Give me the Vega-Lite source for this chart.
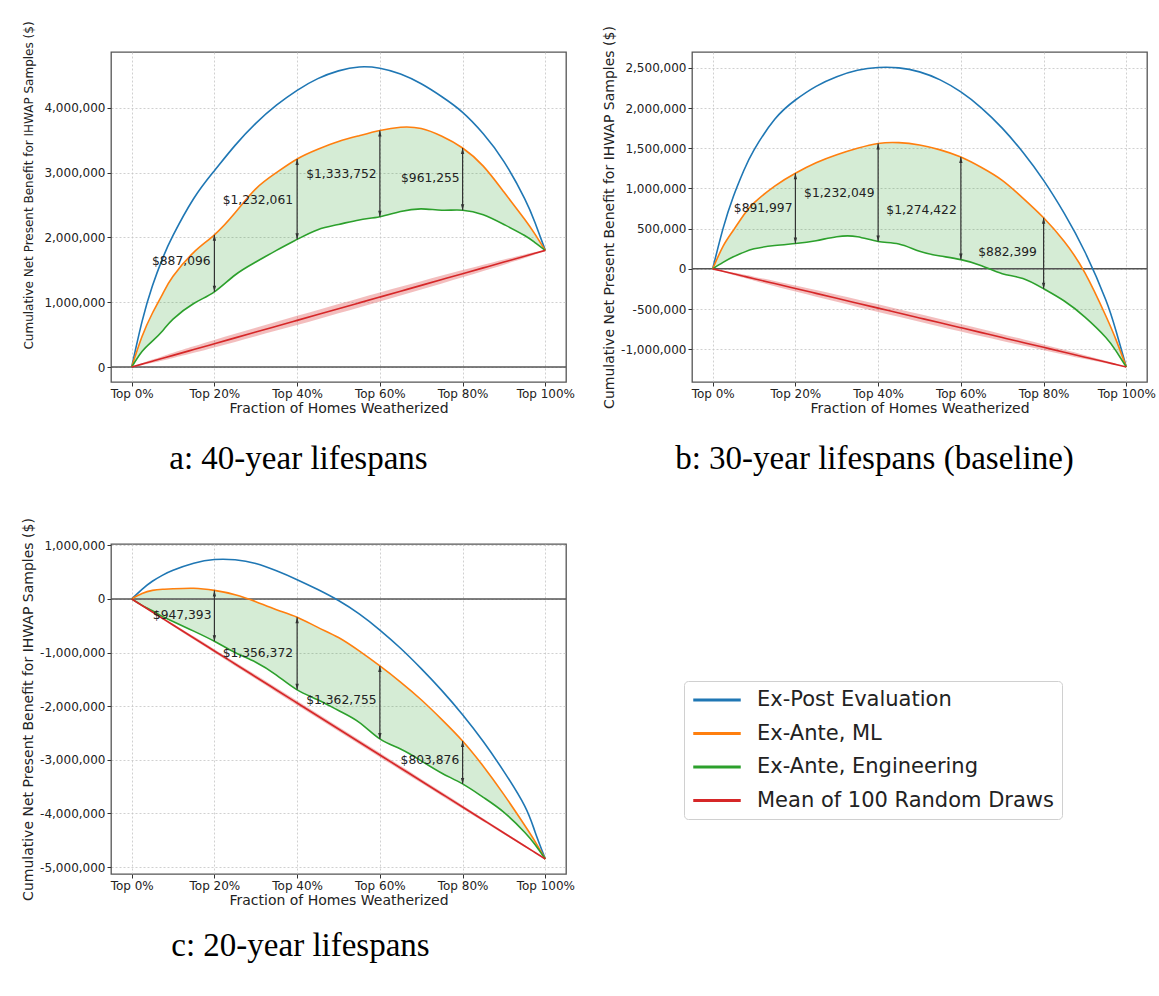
{
"$schema": "https://vega.github.io/schema/vega-lite/v6.json",
"padding": {"left": 20, "top": 20, "right": 0, "bottom": 0},
"background": "white",
"config": {
  "font": "DejaVu Sans",
  "view": {"stroke": "#555", "strokeWidth": 1.3},
  "axis": {"labelFont": "DejaVu Sans", "labelFontSize": 12, "labelColor": "#222", "titleFont": "DejaVu Sans", "titleFontSize": 14, "titleFontWeight": "normal", "titleColor": "#222", "grid": true, "gridColor": "#c4c4c4", "gridDash": [2, 2], "gridWidth": 0.8, "domain": false, "tickColor": "#333", "tickSize": 4, "labelPadding": 2, "labelFlush": false, "labelOverlap": false},
  "axisX": {"titlePadding": 2},
  "title": {"font": "Liberation Serif", "fontSize": 33, "fontWeight": "normal", "color": "#000", "offset": 28},
  "legend": {"orient": "none", "legendX": 573, "legendY": 629, "symbolType": "M-2.5,0H2.5", "symbolSize": 361, "symbolStrokeWidth": 3, "symbolOffset": 14, "labelFontSize": 21, "labelFont": "DejaVu Sans", "labelColor": "#222", "labelLimit": 500, "rowPadding": 12.5, "labelOffset": 29, "padding": 8, "strokeColor": "#d0d0d0", "cornerRadius": 4, "fillColor": "white"}
},
"datasets": {
"curves": [
{"p":"a","x":0,"post":0,"ml":0,"eng":0,"rnd":0,"lo":0,"hi":0},
{"p":"a","x":2.5,"post":700000,"ml":470000,"eng":240000,"rnd":45000,"lo":30000,"hi":60000},
{"p":"a","x":5,"post":1250000,"ml":830000,"eng":400000,"rnd":90000,"lo":65000,"hi":115000},
{"p":"a","x":7.5,"post":1680000,"ml":1130000,"eng":560000,"rnd":135000,"lo":102000,"hi":168000},
{"p":"a","x":10,"post":2030000,"ml":1400000,"eng":740000,"rnd":180000,"lo":140000,"hi":220000},
{"p":"a","x":15,"post":2600000,"ml":1770000,"eng":980000,"rnd":270000,"lo":220000,"hi":320000},
{"p":"a","x":20,"post":3030000,"ml":2040000,"eng":1160000,"rnd":360000,"lo":303000,"hi":417000},
{"p":"a","x":25,"post":3420000,"ml":2380000,"eng":1420000,"rnd":450000,"lo":388000,"hi":512000},
{"p":"a","x":30,"post":3760000,"ml":2750000,"eng":1620000,"rnd":540000,"lo":474000,"hi":606000},
{"p":"a","x":35,"post":4040000,"ml":3000000,"eng":1800000,"rnd":630000,"lo":562000,"hi":698000},
{"p":"a","x":40,"post":4270000,"ml":3210000,"eng":1970000,"rnd":720000,"lo":650000,"hi":790000},
{"p":"a","x":45,"post":4450000,"ml":3360000,"eng":2120000,"rnd":810000,"lo":739000,"hi":881000},
{"p":"a","x":50,"post":4570000,"ml":3480000,"eng":2200000,"rnd":900000,"lo":829000,"hi":971000},
{"p":"a","x":55,"post":4630000,"ml":3570000,"eng":2270000,"rnd":990000,"lo":919000,"hi":1061000},
{"p":"a","x":60,"post":4610000,"ml":3650000,"eng":2320000,"rnd":1080000,"lo":1010000,"hi":1150000},
{"p":"a","x":65,"post":4520000,"ml":3700000,"eng":2400000,"rnd":1170000,"lo":1102000,"hi":1238000},
{"p":"a","x":70,"post":4370000,"ml":3680000,"eng":2440000,"rnd":1260000,"lo":1195000,"hi":1325000},
{"p":"a","x":75,"post":4170000,"ml":3560000,"eng":2420000,"rnd":1350000,"lo":1289000,"hi":1411000},
{"p":"a","x":80,"post":3930000,"ml":3380000,"eng":2420000,"rnd":1440000,"lo":1384000,"hi":1496000},
{"p":"a","x":85,"post":3600000,"ml":3100000,"eng":2350000,"rnd":1530000,"lo":1481000,"hi":1579000},
{"p":"a","x":90,"post":3170000,"ml":2700000,"eng":2200000,"rnd":1620000,"lo":1580000,"hi":1660000},
{"p":"a","x":95,"post":2600000,"ml":2280000,"eng":2030000,"rnd":1710000,"lo":1682000,"hi":1738000},
{"p":"a","x":97.5,"post":2230000,"ml":2050000,"eng":1920000,"rnd":1755000,"lo":1736000,"hi":1774000},
{"p":"a","x":100,"post":1800000,"ml":1800000,"eng":1800000,"rnd":1800000,"lo":1800000,"hi":1800000},
{"p":"b","x":0,"post":0,"ml":0,"eng":0,"rnd":0,"lo":0,"hi":0},
{"p":"b","x":2.5,"post":500000,"ml":280000,"eng":80000,"rnd":-30500,"lo":-38500,"hi":-22500},
{"p":"b","x":5,"post":900000,"ml":480000,"eng":150000,"rnd":-61000,"lo":-76000,"hi":-46000},
{"p":"b","x":7.5,"post":1220000,"ml":670000,"eng":205000,"rnd":-91500,"lo":-111500,"hi":-71500},
{"p":"b","x":10,"post":1480000,"ml":820000,"eng":250000,"rnd":-122000,"lo":-147000,"hi":-97000},
{"p":"b","x":15,"post":1860000,"ml":1030000,"eng":290000,"rnd":-183000,"lo":-215000,"hi":-151000},
{"p":"b","x":20,"post":2100000,"ml":1190000,"eng":315000,"rnd":-244000,"lo":-281000,"hi":-207000},
{"p":"b","x":25,"post":2270000,"ml":1320000,"eng":350000,"rnd":-305000,"lo":-346000,"hi":-264000},
{"p":"b","x":30,"post":2390000,"ml":1420000,"eng":400000,"rnd":-366000,"lo":-410000,"hi":-322000},
{"p":"b","x":35,"post":2470000,"ml":1500000,"eng":400000,"rnd":-427000,"lo":-473000,"hi":-381000},
{"p":"b","x":40,"post":2505000,"ml":1560000,"eng":340000,"rnd":-488000,"lo":-535000,"hi":-441000},
{"p":"b","x":45,"post":2500000,"ml":1570000,"eng":310000,"rnd":-549000,"lo":-597000,"hi":-501000},
{"p":"b","x":50,"post":2450000,"ml":1540000,"eng":220000,"rnd":-610000,"lo":-658000,"hi":-562000},
{"p":"b","x":55,"post":2350000,"ml":1480000,"eng":160000,"rnd":-671000,"lo":-719000,"hi":-623000},
{"p":"b","x":60,"post":2200000,"ml":1390000,"eng":115000,"rnd":-732000,"lo":-779000,"hi":-685000},
{"p":"b","x":65,"post":2000000,"ml":1260000,"eng":40000,"rnd":-793000,"lo":-838000,"hi":-748000},
{"p":"b","x":70,"post":1750000,"ml":1100000,"eng":-60000,"rnd":-854000,"lo":-896000,"hi":-812000},
{"p":"b","x":75,"post":1450000,"ml":880000,"eng":-120000,"rnd":-915000,"lo":-954000,"hi":-876000},
{"p":"b","x":80,"post":1100000,"ml":635000,"eng":-247000,"rnd":-976000,"lo":-1011000,"hi":-941000},
{"p":"b","x":85,"post":690000,"ml":340000,"eng":-400000,"rnd":-1037000,"lo":-1067000,"hi":-1007000},
{"p":"b","x":90,"post":210000,"ml":-50000,"eng":-600000,"rnd":-1098000,"lo":-1122000,"hi":-1074000},
{"p":"b","x":95,"post":-380000,"ml":-580000,"eng":-850000,"rnd":-1159000,"lo":-1175000,"hi":-1143000},
{"p":"b","x":97.5,"post":-770000,"ml":-880000,"eng":-1020000,"rnd":-1189500,"lo":-1199500,"hi":-1179500},
{"p":"b","x":100,"post":-1220000,"ml":-1220000,"eng":-1220000,"rnd":-1220000,"lo":-1220000,"hi":-1220000},
{"p":"c","x":0,"post":0,"ml":0,"eng":0,"rnd":0,"lo":0,"hi":0},
{"p":"c","x":2.5,"post":180000,"ml":100000,"eng":-120000,"rnd":-121250,"lo":-130250,"hi":-112250},
{"p":"c","x":5,"post":330000,"ml":160000,"eng":-220000,"rnd":-242500,"lo":-257500,"hi":-227500},
{"p":"c","x":7.5,"post":445000,"ml":180000,"eng":-330000,"rnd":-363750,"lo":-383750,"hi":-343750},
{"p":"c","x":10,"post":535000,"ml":190000,"eng":-420000,"rnd":-485000,"lo":-509000,"hi":-461000},
{"p":"c","x":15,"post":665000,"ml":200000,"eng":-600000,"rnd":-727500,"lo":-757500,"hi":-697500},
{"p":"c","x":20,"post":735000,"ml":160000,"eng":-790000,"rnd":-970000,"lo":-1004000,"hi":-936000},
{"p":"c","x":25,"post":730000,"ml":80000,"eng":-1000000,"rnd":-1212500,"lo":-1249500,"hi":-1175500},
{"p":"c","x":30,"post":660000,"ml":-50000,"eng":-1180000,"rnd":-1455000,"lo":-1495000,"hi":-1415000},
{"p":"c","x":35,"post":525000,"ml":-200000,"eng":-1420000,"rnd":-1697500,"lo":-1738500,"hi":-1656500},
{"p":"c","x":40,"post":360000,"ml":-340000,"eng":-1695000,"rnd":-1940000,"lo":-1982000,"hi":-1898000},
{"p":"c","x":45,"post":175000,"ml":-530000,"eng":-1880000,"rnd":-2182500,"lo":-2225500,"hi":-2139500},
{"p":"c","x":50,"post":-30000,"ml":-720000,"eng":-2080000,"rnd":-2425000,"lo":-2468000,"hi":-2382000},
{"p":"c","x":55,"post":-280000,"ml":-970000,"eng":-2300000,"rnd":-2667500,"lo":-2710500,"hi":-2624500},
{"p":"c","x":60,"post":-580000,"ml":-1250000,"eng":-2610000,"rnd":-2910000,"lo":-2952000,"hi":-2868000},
{"p":"c","x":65,"post":-920000,"ml":-1550000,"eng":-2800000,"rnd":-3152500,"lo":-3193500,"hi":-3111500},
{"p":"c","x":70,"post":-1300000,"ml":-1880000,"eng":-3020000,"rnd":-3395000,"lo":-3434000,"hi":-3356000},
{"p":"c","x":75,"post":-1710000,"ml":-2250000,"eng":-3250000,"rnd":-3637500,"lo":-3674500,"hi":-3600500},
{"p":"c","x":80,"post":-2160000,"ml":-2650000,"eng":-3450000,"rnd":-3880000,"lo":-3914000,"hi":-3846000},
{"p":"c","x":85,"post":-2660000,"ml":-3120000,"eng":-3700000,"rnd":-4122500,"lo":-4151500,"hi":-4093500},
{"p":"c","x":90,"post":-3220000,"ml":-3650000,"eng":-3980000,"rnd":-4365000,"lo":-4389000,"hi":-4341000},
{"p":"c","x":95,"post":-3860000,"ml":-4220000,"eng":-4350000,"rnd":-4607500,"lo":-4624500,"hi":-4590500},
{"p":"c","x":97.5,"post":-4340000,"ml":-4520000,"eng":-4580000,"rnd":-4728750,"lo":-4739750,"hi":-4717750},
{"p":"c","x":100,"post":-4850000,"ml":-4850000,"eng":-4850000,"rnd":-4850000,"lo":-4850000,"hi":-4850000}
],
"arrows": [
{"p":"a","x":20,"top":2040000,"bottom":1160000,"label":"$887,096","lx":12.0,"ly":1630000},
{"p":"a","x":40,"top":3210000,"bottom":1970000,"label":"$1,232,061","lx":30.5,"ly":2575000},
{"p":"a","x":60,"top":3650000,"bottom":2320000,"label":"$1,333,752","lx":50.7,"ly":2980000},
{"p":"a","x":80,"top":3380000,"bottom":2420000,"label":"$961,255","lx":72.2,"ly":2920000},
{"p":"b","x":20,"top":1190000,"bottom":315000,"label":"$891,997","lx":12.2,"ly":756000},
{"p":"b","x":40,"top":1560000,"bottom":340000,"label":"$1,232,049","lx":30.6,"ly":943000},
{"p":"b","x":60,"top":1390000,"bottom":115000,"label":"$1,274,422","lx":50.5,"ly":735000},
{"p":"b","x":80,"top":635000,"bottom":-247000,"label":"$882,399","lx":71.3,"ly":208000},
{"p":"c","x":20,"top":160000,"bottom":-790000,"label":"$947,393","lx":12.2,"ly":-300000},
{"p":"c","x":40,"top":-340000,"bottom":-1695000,"label":"$1,356,372","lx":30.5,"ly":-1000000},
{"p":"c","x":60,"top":-1250000,"bottom":-2610000,"label":"$1,362,755","lx":50.7,"ly":-1890000},
{"p":"c","x":80,"top":-2650000,"bottom":-3450000,"label":"$803,876","lx":72.1,"ly":-3010000}
]
},
"concat": [
{
 "width": 455, "height": 330,
 "title": {"text": "a: 40-year lifespans", "orient": "bottom", "dx": -40},
 "layer": [
  {"data": {"name": "curves"}, "transform": [{"filter": "datum.p === 'a'"}],
   "mark": {"type": "area", "color": "#2ca02c", "opacity": 0.2, "interpolate": "natural"},
   "encoding": {
    "x": {"field": "x", "type": "quantitative", "title": "Fraction of Homes Weatherized", "scale": {"domain": [-5, 105], "nice": false, "zero": false}, "axis": {"values": [0, 20, 40, 60, 80, 100], "labelExpr": "'Top ' + datum.value + '%'"}},
    "y": {"field": "ml", "type": "quantitative", "title": "Cumulative Net Present Benefit for IHWAP Samples ($)", "scale": {"domain": [-231000, 4861000], "nice": false, "zero": false}, "axis": {"values": [0, 1000000, 2000000, 3000000, 4000000], "format": ",d", "labelExpr": "replace(datum.label, '\u2212', '-')", "titlePadding": 8, "titleFontSize": 12, "titleY": 133}},
    "y2": {"field": "eng"}}},
  {"data": {"name": "curves"}, "transform": [{"filter": "datum.p === 'a'"}],
   "mark": {"type": "area", "color": "#d62728", "opacity": 0.3, "interpolate": "natural"},
   "encoding": {"x": {"field": "x", "type": "quantitative", "title": "Fraction of Homes Weatherized"}, "y": {"field": "lo", "type": "quantitative", "title": "Cumulative Net Present Benefit for IHWAP Samples ($)"}, "y2": {"field": "hi"}}},
  {"data": {"values": [{}]}, "mark": {"type": "rule", "color": "#555", "strokeWidth": 1.5}, "encoding": {"y": {"datum": 0, "type": "quantitative", "title": "Cumulative Net Present Benefit for IHWAP Samples ($)"}}},
  {"data": {"name": "curves"}, "transform": [{"filter": "datum.p === 'a'"}, {"fold": ["post", "ml", "eng", "rnd"], "as": ["s", "v"]}],
   "mark": {"type": "line", "strokeWidth": 1.6, "interpolate": "natural"},
   "encoding": {"x": {"field": "x", "type": "quantitative", "title": "Fraction of Homes Weatherized"}, "y": {"field": "v", "type": "quantitative", "title": "Cumulative Net Present Benefit for IHWAP Samples ($)"},
    "color": {"field": "s", "type": "nominal", "scale": {"domain": ["post", "ml", "eng", "rnd"], "range": ["#1f77b4", "#ff7f0e", "#2ca02c", "#d62728"]},
     "legend": {"title": null, "labelExpr": "{'post': 'Ex-Post Evaluation', 'ml': 'Ex-Ante, ML', 'eng': 'Ex-Ante, Engineering', 'rnd': 'Mean of 100 Random Draws'}[datum.value]"}}}},
  {"data": {"name": "arrows"}, "transform": [{"filter": "datum.p === 'a'"}],
   "mark": {"type": "rule", "color": "#333", "strokeWidth": 1.2},
   "encoding": {"x": {"field": "x", "type": "quantitative", "title": "Fraction of Homes Weatherized"}, "y": {"field": "top", "type": "quantitative", "title": "Cumulative Net Present Benefit for IHWAP Samples ($)"}, "y2": {"field": "bottom"}}},
  {"data": {"name": "arrows"}, "transform": [{"filter": "datum.p === 'a'"}],
   "mark": {"type": "point", "shape": "M0,-1L-0.42,0.5L0.42,0.5Z", "filled": true, "color": "#333", "opacity": 1, "size": 64, "yOffset": 4},
   "encoding": {"x": {"field": "x", "type": "quantitative", "title": "Fraction of Homes Weatherized"}, "y": {"field": "top", "type": "quantitative", "title": "Cumulative Net Present Benefit for IHWAP Samples ($)"}}},
  {"data": {"name": "arrows"}, "transform": [{"filter": "datum.p === 'a'"}],
   "mark": {"type": "point", "shape": "M0,1L-0.42,-0.5L0.42,-0.5Z", "filled": true, "color": "#333", "opacity": 1, "size": 64, "yOffset": -4},
   "encoding": {"x": {"field": "x", "type": "quantitative", "title": "Fraction of Homes Weatherized"}, "y": {"field": "bottom", "type": "quantitative", "title": "Cumulative Net Present Benefit for IHWAP Samples ($)"}}},
  {"data": {"name": "arrows"}, "transform": [{"filter": "datum.p === 'a'"}],
   "mark": {"type": "text", "fontSize": 12.3, "font": "DejaVu Sans", "color": "#222"},
   "encoding": {"x": {"field": "lx", "type": "quantitative", "title": "Fraction of Homes Weatherized"}, "y": {"field": "ly", "type": "quantitative", "title": "Cumulative Net Present Benefit for IHWAP Samples ($)"}, "text": {"field": "label"}}}
 ]
},
{
 "width": 455, "height": 330,
 "title": {"text": "b: 30-year lifespans (baseline)", "orient": "bottom", "dx": -45},
 "layer": [
  {"data": {"name": "curves"}, "transform": [{"filter": "datum.p === 'b'"}],
   "mark": {"type": "area", "color": "#2ca02c", "opacity": 0.2, "interpolate": "natural"},
   "encoding": {
    "x": {"field": "x", "type": "quantitative", "title": "Fraction of Homes Weatherized", "scale": {"domain": [-5, 105], "nice": false, "zero": false}, "axis": {"values": [0, 20, 40, 60, 80, 100], "labelExpr": "'Top ' + datum.value + '%'"}},
    "y": {"field": "ml", "type": "quantitative", "title": "Cumulative Net Present Benefit for IHWAP Samples ($)", "scale": {"domain": [-1407000, 2697000], "nice": false, "zero": false}, "axis": {"values": [-1000000, -500000, 0, 500000, 1000000, 1500000, 2000000, 2500000], "format": ",d", "labelExpr": "replace(datum.label, '\u2212', '-')", "titlePadding": 4}},
    "y2": {"field": "eng"}}},
  {"data": {"name": "curves"}, "transform": [{"filter": "datum.p === 'b'"}],
   "mark": {"type": "area", "color": "#d62728", "opacity": 0.3, "interpolate": "natural"},
   "encoding": {"x": {"field": "x", "type": "quantitative", "title": "Fraction of Homes Weatherized"}, "y": {"field": "lo", "type": "quantitative", "title": "Cumulative Net Present Benefit for IHWAP Samples ($)"}, "y2": {"field": "hi"}}},
  {"data": {"values": [{}]}, "mark": {"type": "rule", "color": "#555", "strokeWidth": 1.5}, "encoding": {"y": {"datum": 0, "type": "quantitative", "title": "Cumulative Net Present Benefit for IHWAP Samples ($)"}}},
  {"data": {"name": "curves"}, "transform": [{"filter": "datum.p === 'b'"}, {"fold": ["post", "ml", "eng", "rnd"], "as": ["s", "v"]}],
   "mark": {"type": "line", "strokeWidth": 1.6, "interpolate": "natural"},
   "encoding": {"x": {"field": "x", "type": "quantitative", "title": "Fraction of Homes Weatherized"}, "y": {"field": "v", "type": "quantitative", "title": "Cumulative Net Present Benefit for IHWAP Samples ($)"},
    "color": {"field": "s", "type": "nominal", "scale": {"domain": ["post", "ml", "eng", "rnd"], "range": ["#1f77b4", "#ff7f0e", "#2ca02c", "#d62728"]},
     "legend": {"title": null, "labelExpr": "{'post': 'Ex-Post Evaluation', 'ml': 'Ex-Ante, ML', 'eng': 'Ex-Ante, Engineering', 'rnd': 'Mean of 100 Random Draws'}[datum.value]"}}}},
  {"data": {"name": "arrows"}, "transform": [{"filter": "datum.p === 'b'"}],
   "mark": {"type": "rule", "color": "#333", "strokeWidth": 1.2},
   "encoding": {"x": {"field": "x", "type": "quantitative", "title": "Fraction of Homes Weatherized"}, "y": {"field": "top", "type": "quantitative", "title": "Cumulative Net Present Benefit for IHWAP Samples ($)"}, "y2": {"field": "bottom"}}},
  {"data": {"name": "arrows"}, "transform": [{"filter": "datum.p === 'b'"}],
   "mark": {"type": "point", "shape": "M0,-1L-0.42,0.5L0.42,0.5Z", "filled": true, "color": "#333", "opacity": 1, "size": 64, "yOffset": 4},
   "encoding": {"x": {"field": "x", "type": "quantitative", "title": "Fraction of Homes Weatherized"}, "y": {"field": "top", "type": "quantitative", "title": "Cumulative Net Present Benefit for IHWAP Samples ($)"}}},
  {"data": {"name": "arrows"}, "transform": [{"filter": "datum.p === 'b'"}],
   "mark": {"type": "point", "shape": "M0,1L-0.42,-0.5L0.42,-0.5Z", "filled": true, "color": "#333", "opacity": 1, "size": 64, "yOffset": -4},
   "encoding": {"x": {"field": "x", "type": "quantitative", "title": "Fraction of Homes Weatherized"}, "y": {"field": "bottom", "type": "quantitative", "title": "Cumulative Net Present Benefit for IHWAP Samples ($)"}}},
  {"data": {"name": "arrows"}, "transform": [{"filter": "datum.p === 'b'"}],
   "mark": {"type": "text", "fontSize": 12.3, "font": "DejaVu Sans", "color": "#222"},
   "encoding": {"x": {"field": "lx", "type": "quantitative", "title": "Fraction of Homes Weatherized"}, "y": {"field": "ly", "type": "quantitative", "title": "Cumulative Net Present Benefit for IHWAP Samples ($)"}, "text": {"field": "label"}}}
 ]
},
{
 "width": 455, "height": 330,
 "title": {"text": "c: 20-year lifespans", "orient": "bottom", "dx": -38, "offset": 23},
 "layer": [
  {"data": {"name": "curves"}, "transform": [{"filter": "datum.p === 'c'"}],
   "mark": {"type": "area", "color": "#2ca02c", "opacity": 0.2, "interpolate": "natural"},
   "encoding": {
    "x": {"field": "x", "type": "quantitative", "title": "Fraction of Homes Weatherized", "scale": {"domain": [-5, 105], "nice": false, "zero": false}, "axis": {"values": [0, 20, 40, 60, 80, 100], "labelExpr": "'Top ' + datum.value + '%'"}},
    "y": {"field": "ml", "type": "quantitative", "title": "Cumulative Net Present Benefit for IHWAP Samples ($)", "scale": {"domain": [-5130000, 1025000], "nice": false, "zero": false}, "axis": {"values": [-5000000, -4000000, -3000000, -2000000, -1000000, 0, 1000000], "format": ",d", "labelExpr": "replace(datum.label, '\u2212', '-')", "titlePadding": 4}},
    "y2": {"field": "eng"}}},
  {"data": {"name": "curves"}, "transform": [{"filter": "datum.p === 'c'"}],
   "mark": {"type": "area", "color": "#d62728", "opacity": 0.3, "interpolate": "natural"},
   "encoding": {"x": {"field": "x", "type": "quantitative", "title": "Fraction of Homes Weatherized"}, "y": {"field": "lo", "type": "quantitative", "title": "Cumulative Net Present Benefit for IHWAP Samples ($)"}, "y2": {"field": "hi"}}},
  {"data": {"values": [{}]}, "mark": {"type": "rule", "color": "#555", "strokeWidth": 1.5}, "encoding": {"y": {"datum": 0, "type": "quantitative", "title": "Cumulative Net Present Benefit for IHWAP Samples ($)"}}},
  {"data": {"name": "curves"}, "transform": [{"filter": "datum.p === 'c'"}, {"fold": ["post", "ml", "eng", "rnd"], "as": ["s", "v"]}],
   "mark": {"type": "line", "strokeWidth": 1.6, "interpolate": "natural"},
   "encoding": {"x": {"field": "x", "type": "quantitative", "title": "Fraction of Homes Weatherized"}, "y": {"field": "v", "type": "quantitative", "title": "Cumulative Net Present Benefit for IHWAP Samples ($)"},
    "color": {"field": "s", "type": "nominal", "scale": {"domain": ["post", "ml", "eng", "rnd"], "range": ["#1f77b4", "#ff7f0e", "#2ca02c", "#d62728"]},
     "legend": {"title": null, "labelExpr": "{'post': 'Ex-Post Evaluation', 'ml': 'Ex-Ante, ML', 'eng': 'Ex-Ante, Engineering', 'rnd': 'Mean of 100 Random Draws'}[datum.value]"}}}},
  {"data": {"name": "arrows"}, "transform": [{"filter": "datum.p === 'c'"}],
   "mark": {"type": "rule", "color": "#333", "strokeWidth": 1.2},
   "encoding": {"x": {"field": "x", "type": "quantitative", "title": "Fraction of Homes Weatherized"}, "y": {"field": "top", "type": "quantitative", "title": "Cumulative Net Present Benefit for IHWAP Samples ($)"}, "y2": {"field": "bottom"}}},
  {"data": {"name": "arrows"}, "transform": [{"filter": "datum.p === 'c'"}],
   "mark": {"type": "point", "shape": "M0,-1L-0.42,0.5L0.42,0.5Z", "filled": true, "color": "#333", "opacity": 1, "size": 64, "yOffset": 4},
   "encoding": {"x": {"field": "x", "type": "quantitative", "title": "Fraction of Homes Weatherized"}, "y": {"field": "top", "type": "quantitative", "title": "Cumulative Net Present Benefit for IHWAP Samples ($)"}}},
  {"data": {"name": "arrows"}, "transform": [{"filter": "datum.p === 'c'"}],
   "mark": {"type": "point", "shape": "M0,1L-0.42,-0.5L0.42,-0.5Z", "filled": true, "color": "#333", "opacity": 1, "size": 64, "yOffset": -4},
   "encoding": {"x": {"field": "x", "type": "quantitative", "title": "Fraction of Homes Weatherized"}, "y": {"field": "bottom", "type": "quantitative", "title": "Cumulative Net Present Benefit for IHWAP Samples ($)"}}},
  {"data": {"name": "arrows"}, "transform": [{"filter": "datum.p === 'c'"}],
   "mark": {"type": "text", "fontSize": 12.3, "font": "DejaVu Sans", "color": "#222"},
   "encoding": {"x": {"field": "lx", "type": "quantitative", "title": "Fraction of Homes Weatherized"}, "y": {"field": "ly", "type": "quantitative", "title": "Cumulative Net Present Benefit for IHWAP Samples ($)"}, "text": {"field": "label"}}}
 ]
}
],
"columns": 2,
"bounds": "flush",
"spacing": {"row": 162, "column": 126}
}
